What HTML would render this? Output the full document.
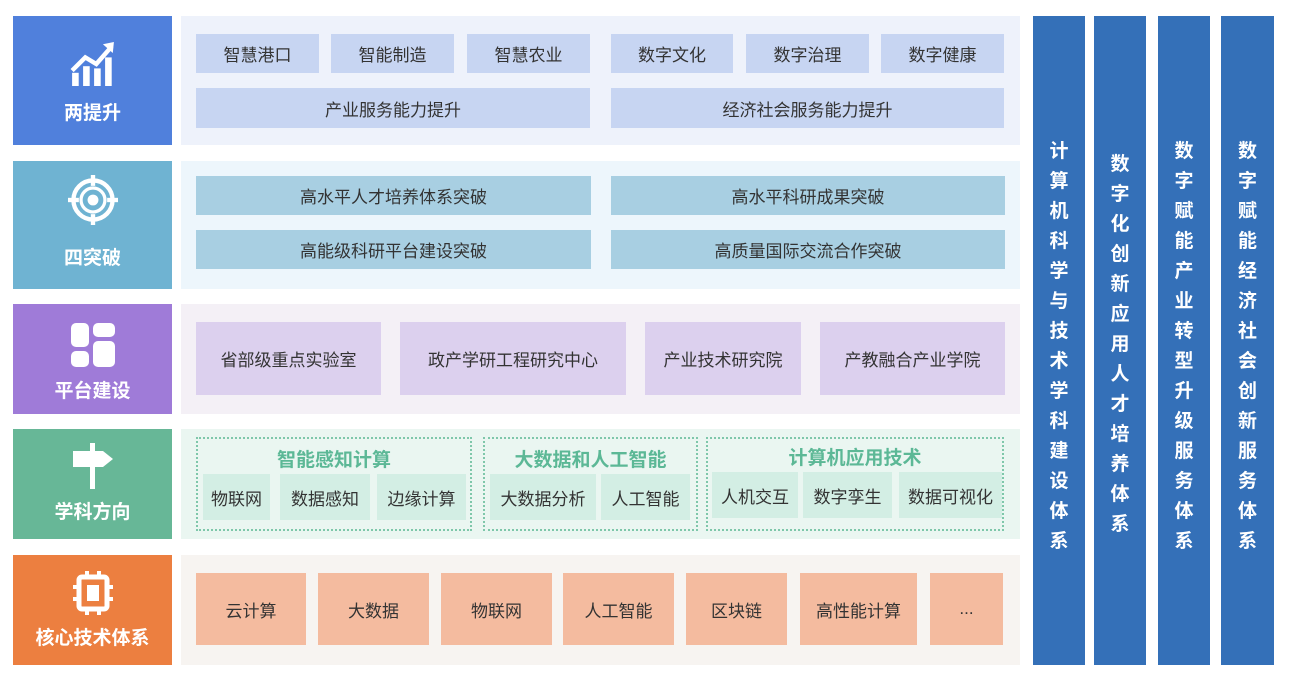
<!DOCTYPE html>
<html><head><meta charset="utf-8"><style>
body{margin:0;width:1293px;height:680px;background:#fff;position:relative;overflow:hidden;font-family:"Liberation Sans","Noto Sans CJK SC",sans-serif;}
div{position:absolute;box-sizing:border-box;}
.lab{color:#fff;font-weight:bold;font-size:19px;text-align:center;}
.lab span{position:absolute;left:0;right:0;}
.b{display:flex;align-items:center;justify-content:center;font-size:17px;color:#333;}
.col{top:16px;height:649px;width:52px;background:#3470b8;color:#fff;font-weight:bold;font-size:19px;text-align:center;line-height:30px;padding-top:121px;}
.grp{border:2px dotted #7ec7aa;top:437px;height:94px;}
.gt{color:#5cb896;font-weight:bold;font-size:19px;text-align:center;left:0;right:0;top:6px;}
.s{background:#d3eee4;top:474px;height:46px;}
</style></head><body>
<!-- row1 -->
<div class="lab" style="left:13px;top:16px;width:159px;height:129px;background:#5080dc">
<svg style="position:absolute;left:56px;top:26px" width="48" height="44" viewBox="0 0 42 40"><g fill="#fff"><rect x="2" y="28" width="6" height="12"/><rect x="12" y="22" width="6" height="18"/><rect x="22" y="24" width="6" height="16"/><rect x="32" y="14" width="6" height="26"/></g><polyline points="2,26 14,14 24,20 38,4" fill="none" stroke="#fff" stroke-width="4"/><polygon points="30,2 40,0 39,10" fill="#fff"/></svg>
<span style="top:82px">两提升</span></div>
<div style="left:181px;top:16px;width:839px;height:129px;background:#eef2fb"></div>
<div class="b" style="left:196px;top:34px;width:123px;height:39px;background:#c7d5f2">智慧港口</div>
<div class="b" style="left:331px;top:34px;width:123px;height:39px;background:#c7d5f2">智能制造</div>
<div class="b" style="left:467px;top:34px;width:123px;height:39px;background:#c7d5f2">智慧农业</div>
<div class="b" style="left:611px;top:34px;width:122px;height:39px;background:#c7d5f2">数字文化</div>
<div class="b" style="left:746px;top:34px;width:123px;height:39px;background:#c7d5f2">数字治理</div>
<div class="b" style="left:881px;top:34px;width:123px;height:39px;background:#c7d5f2">数字健康</div>
<div class="b" style="left:196px;top:88px;width:394px;height:40px;background:#c7d5f2">产业服务能力提升</div>
<div class="b" style="left:611px;top:88px;width:393px;height:40px;background:#c7d5f2">经济社会服务能力提升</div>
<!-- row2 -->
<div class="lab" style="left:13px;top:161px;width:159px;height:128px;background:#6fb3d2">
<svg style="position:absolute;left:55px;top:14px" width="50" height="50" viewBox="0 0 46 46"><circle cx="23" cy="23" r="18" fill="none" stroke="#fff" stroke-width="4"/><circle cx="23" cy="23" r="11" fill="none" stroke="#fff" stroke-width="3"/><circle cx="23" cy="23" r="5" fill="#fff"/><g stroke="#fff" stroke-width="4"><line x1="23" y1="0" x2="23" y2="10"/><line x1="23" y1="36" x2="23" y2="46"/><line x1="0" y1="23" x2="10" y2="23"/><line x1="36" y1="23" x2="46" y2="23"/></g></svg>
<span style="top:82px">四突破</span></div>
<div style="left:181px;top:161px;width:839px;height:128px;background:#edf6fc"></div>
<div class="b" style="left:196px;top:176px;width:395px;height:39px;background:#a8cfe2">高水平人才培养体系突破</div>
<div class="b" style="left:611px;top:176px;width:394px;height:39px;background:#a8cfe2">高水平科研成果突破</div>
<div class="b" style="left:196px;top:230px;width:395px;height:39px;background:#a8cfe2">高能级科研平台建设突破</div>
<div class="b" style="left:611px;top:230px;width:394px;height:39px;background:#a8cfe2">高质量国际交流合作突破</div>
<!-- row3 -->
<div class="lab" style="left:13px;top:304px;width:159px;height:110px;background:#9f7bd8">
<svg style="position:absolute;left:58px;top:19px" width="44" height="44" viewBox="0 0 44 44"><g fill="#fff"><rect x="0" y="0" width="18" height="24" rx="5"/><rect x="0" y="28" width="18" height="16" rx="5"/><rect x="22" y="0" width="22" height="14" rx="5"/><rect x="22" y="18" width="22" height="26" rx="5"/></g></svg>
<span style="top:72px">平台建设</span></div>
<div style="left:181px;top:304px;width:839px;height:110px;background:#f4f0f6"></div>
<div class="b" style="left:196px;top:322px;width:185px;height:73px;background:#dcd0ee">省部级重点实验室</div>
<div class="b" style="left:400px;top:322px;width:226px;height:73px;background:#dcd0ee">政产学研工程研究中心</div>
<div class="b" style="left:645px;top:322px;width:156px;height:73px;background:#dcd0ee">产业技术研究院</div>
<div class="b" style="left:820px;top:322px;width:185px;height:73px;background:#dcd0ee">产教融合产业学院</div>
<!-- row4 -->
<div class="lab" style="left:13px;top:429px;width:159px;height:110px;background:#67b797">
<svg style="position:absolute;left:60px;top:14px" width="40" height="46" viewBox="0 0 40 46"><rect x="17" y="0" width="5" height="46" fill="#fff"/><polygon points="0,8 30,8 40,16 30,24 0,24" fill="#fff"/></svg>
<span style="top:68px">学科方向</span></div>
<div style="left:181px;top:429px;width:839px;height:110px;background:#eaf6f1"></div>
<div class="grp" style="left:196px;width:276px"><div class="gt">智能感知计算</div></div>
<div class="grp" style="left:483px;width:215px"><div class="gt">大数据和人工智能</div></div>
<div class="grp" style="left:706px;width:298px"><div class="gt" style="top:4px">计算机应用技术</div></div>
<div class="b s" style="left:203px;width:67px">物联网</div>
<div class="b s" style="left:280px;width:90px">数据感知</div>
<div class="b s" style="left:377px;width:89px">边缘计算</div>
<div class="b s" style="left:490px;width:106px">大数据分析</div>
<div class="b s" style="left:601px;width:89px">人工智能</div>
<div class="b s" style="left:712px;width:86px;top:472px">人机交互</div>
<div class="b s" style="left:803px;width:89px;top:472px">数字孪生</div>
<div class="b s" style="left:899px;width:103px;top:472px">数据可视化</div>
<!-- row5 -->
<div class="lab" style="left:13px;top:555px;width:159px;height:110px;background:#ec7f40">
<svg style="position:absolute;left:60px;top:16px" width="40" height="44" viewBox="0 0 40 44"><rect x="6" y="6" width="28" height="32" rx="3" fill="none" stroke="#fff" stroke-width="5"/><rect x="14" y="14" width="12" height="16" fill="#fff"/><g stroke="#fff" stroke-width="4"><line x1="14" y1="0" x2="14" y2="6"/><line x1="26" y1="0" x2="26" y2="6"/><line x1="14" y1="38" x2="14" y2="44"/><line x1="26" y1="38" x2="26" y2="44"/><line x1="0" y1="16" x2="6" y2="16"/><line x1="0" y1="28" x2="6" y2="28"/><line x1="34" y1="16" x2="40" y2="16"/><line x1="34" y1="28" x2="40" y2="28"/></g></svg>
<span style="top:68px">核心技术体系</span></div>
<div style="left:181px;top:555px;width:839px;height:110px;background:#f7f4f1"></div>
<div class="b" style="left:196px;top:573px;width:110px;height:72px;background:#f4bb9f">云计算</div>
<div class="b" style="left:318px;top:573px;width:111px;height:72px;background:#f4bb9f">大数据</div>
<div class="b" style="left:441px;top:573px;width:111px;height:72px;background:#f4bb9f">物联网</div>
<div class="b" style="left:563px;top:573px;width:111px;height:72px;background:#f4bb9f">人工智能</div>
<div class="b" style="left:686px;top:573px;width:101px;height:72px;background:#f4bb9f">区块链</div>
<div class="b" style="left:800px;top:573px;width:117px;height:72px;background:#f4bb9f">高性能计算</div>
<div class="b" style="left:930px;top:573px;width:73px;height:72px;background:#f4bb9f">...</div>
<!-- right columns -->
<div class="col" style="left:1033px">计<br>算<br>机<br>科<br>学<br>与<br>技<br>术<br>学<br>科<br>建<br>设<br>体<br>系</div>
<div class="col" style="left:1094px;padding-top:134px">数<br>字<br>化<br>创<br>新<br>应<br>用<br>人<br>才<br>培<br>养<br>体<br>系</div>
<div class="col" style="left:1158px">数<br>字<br>赋<br>能<br>产<br>业<br>转<br>型<br>升<br>级<br>服<br>务<br>体<br>系</div>
<div class="col" style="left:1221px;width:53px">数<br>字<br>赋<br>能<br>经<br>济<br>社<br>会<br>创<br>新<br>服<br>务<br>体<br>系</div>
</body></html>
